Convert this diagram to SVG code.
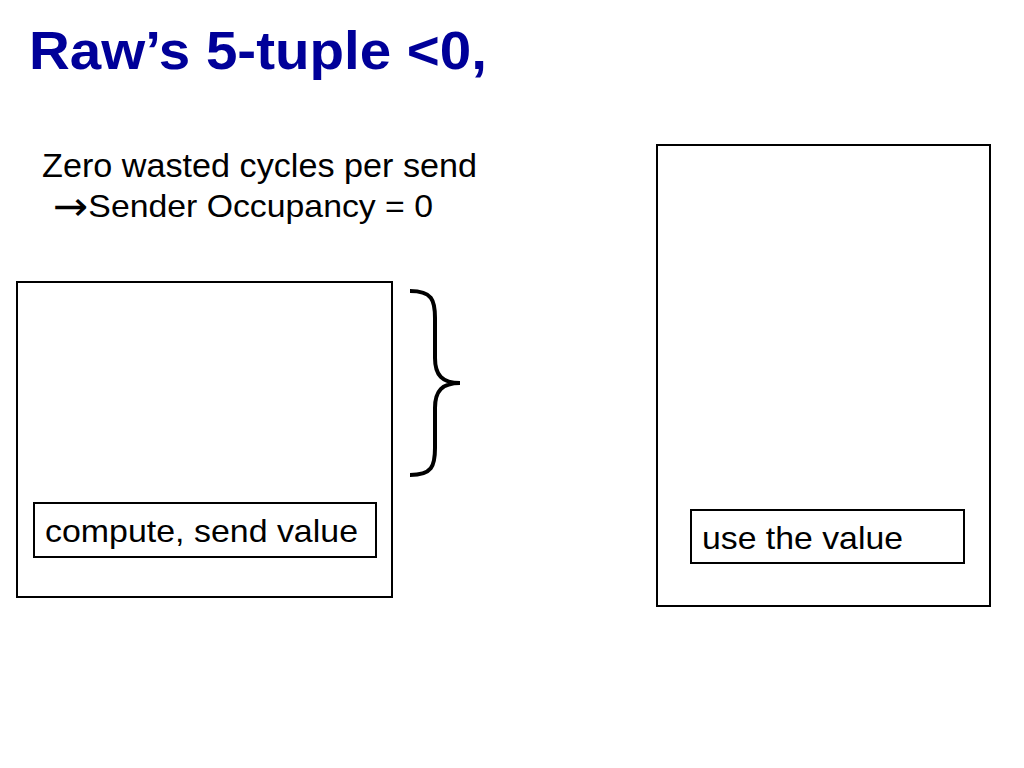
<svg xmlns="http://www.w3.org/2000/svg" width="1024" height="768" viewBox="0 0 1024 768">
<style>
.box{fill:#fff;stroke:#000;stroke-width:2}
.t{font-family:"Liberation Sans",Arial,sans-serif;fill:#000}
</style>
<rect width="1024" height="768" fill="#fff"/>
<text x="29" y="69" font-family="Liberation Sans, Arial, sans-serif" font-weight="bold" font-size="53" fill="#000099" textLength="458" lengthAdjust="spacingAndGlyphs">Raw’s 5-tuple &lt;0,</text>
<text class="t" x="42" y="177" font-size="33" textLength="435" lengthAdjust="spacingAndGlyphs">Zero wasted cycles per send</text>
<text class="t" x="53" y="217" font-size="32" textLength="380" lengthAdjust="spacingAndGlyphs"><tspan font-family="DejaVu Sans, sans-serif" font-size="40" dy="3">→</tspan><tspan dy="-3">Sender Occupancy = 0</tspan></text>
<g id="sender">
<rect class="box" x="17" y="282" width="375" height="315"/>
</g>
<g id="send-op">
<rect class="box" x="34" y="503" width="342" height="54"/>
<text class="t" x="45" y="542" font-size="32" textLength="313" lengthAdjust="spacingAndGlyphs">compute, send value</text>
</g>
<g id="receiver">
<rect class="box" x="657" y="145" width="333" height="461"/>
</g>
<g id="use-op">
<rect class="box" x="691" y="510" width="273" height="53"/>
<text class="t" x="702" y="549" font-size="32" textLength="201" lengthAdjust="spacingAndGlyphs">use the value</text>
</g>
<g id="connectors">
<path d="M410,291 C432,291 435,300 435,318 L435,358 C435,375 442,383 460,383 C442,383 435,391 435,408 L435,448 C435,466 432,475 410,475" fill="none" stroke="#000" stroke-width="4"/>
</g>
</svg>
